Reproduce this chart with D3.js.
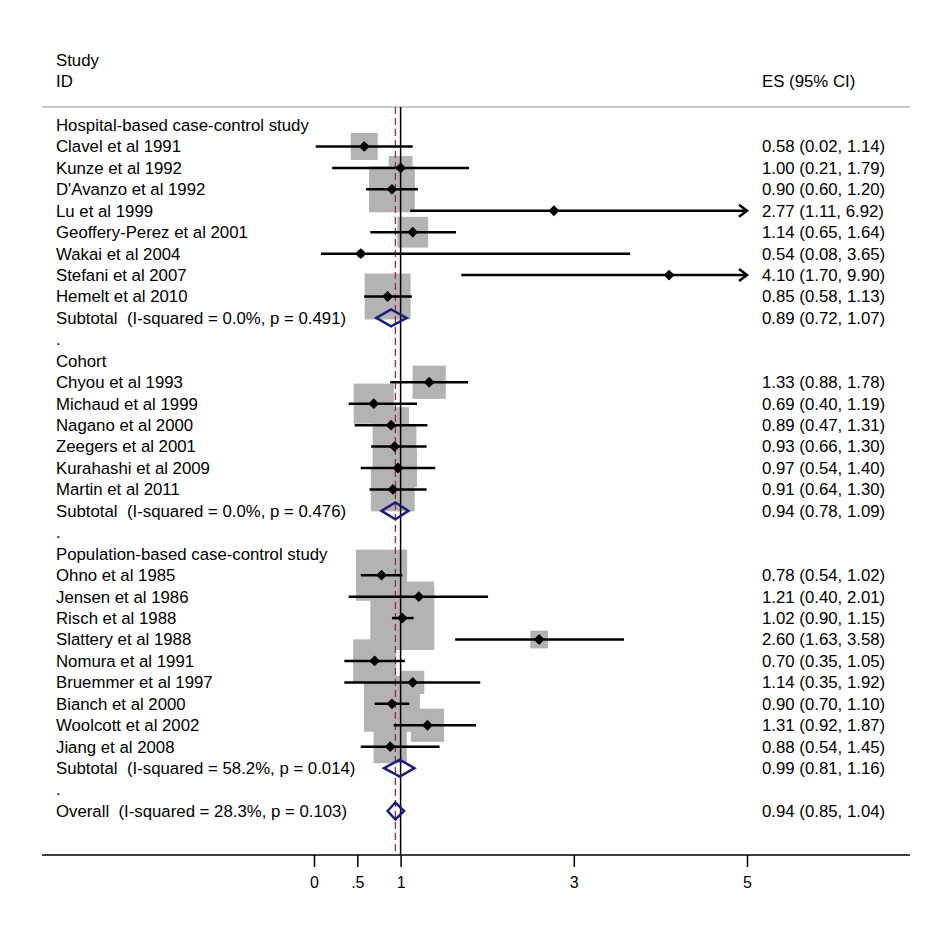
<!DOCTYPE html>
<html>
<head>
<meta charset="utf-8">
<script src="https://cdn.jsdelivr.net/npm/d3@7"></script>
<style>
  body { margin: 0; background: #fff; }
  svg { display: block; font-family: Arial, "Liberation Sans", sans-serif; }
  text { white-space: pre; }
</style>
</head>
<body>
<svg id="chart" width="945" height="936"></svg>
<script>
// --- data ---
const groupNames = [
  "Hospital-based case-control study",
  "Cohort",
  "Population-based case-control study"
];
const studyNames = [
  "Clavel et al 1991", "Kunze et al 1992", "D'Avanzo et al 1992", "Lu et al 1999",
  "Geoffery-Perez et al 2001", "Wakai et al 2004", "Stefani et al 2007", "Hemelt et al 2010",
  "Chyou et al 1993", "Michaud et al 1999", "Nagano et al 2000", "Zeegers et al 2001",
  "Kurahashi et al 2009", "Martin et al 2011",
  "Ohno et al 1985", "Jensen et al 1986", "Risch et al 1988", "Slattery et al 1988",
  "Nomura et al 1991", "Bruemmer et al 1997", "Bianch et al 2000", "Woolcott et al 2002",
  "Jiang et al 2008"
];
const studyGroup = [0,0,0,0,0,0,0,0, 1,1,1,1,1,1, 2,2,2,2,2,2,2,2,2];
const studyES = [0.58, 1.00, 0.90, 2.77, 1.14, 0.54, 4.10, 0.85,
                 1.33, 0.69, 0.89, 0.93, 0.97, 0.91,
                 0.78, 1.21, 1.02, 2.60, 0.70, 1.14, 0.90, 1.31, 0.88];
const studyLo = [0.02, 0.21, 0.60, 1.11, 0.65, 0.08, 1.70, 0.58,
                 0.88, 0.40, 0.47, 0.66, 0.54, 0.64,
                 0.54, 0.40, 0.90, 1.63, 0.35, 0.35, 0.70, 0.92, 0.54];
const studyHi = [1.14, 1.79, 1.20, 6.92, 1.64, 3.65, 9.90, 1.13,
                 1.78, 1.19, 1.31, 1.30, 1.40, 1.30,
                 1.02, 2.01, 1.15, 3.58, 1.05, 1.92, 1.10, 1.87, 1.45];
// weights (%)
const studyWeight = [2.3, 1.8, 6.7, 0.05, 3.0, 0.2, 0.05, 6.7,
                     3.5, 5.1, 4.1, 6.1, 4.6, 6.1,
                     8.3, 2.9, 13.0, 1.0, 5.9, 1.7, 9.9, 3.5, 3.5];

const subtotalLabels = [
  "Subtotal  (I-squared = 0.0%, p = 0.491)",
  "Subtotal  (I-squared = 0.0%, p = 0.476)",
  "Subtotal  (I-squared = 58.2%, p = 0.014)"
];
const subtotalES = [0.89, 0.94, 0.99];
const subtotalLo = [0.72, 0.78, 0.81];
const subtotalHi = [1.07, 1.09, 1.16];

const overallLabel = "Overall  (I-squared = 28.3%, p = 0.103)";
const overallES = 0.94, overallLo = 0.85, overallHi = 1.04;

const tickValues = [0, 0.5, 1, 3, 5];
const tickLabels = ["0", ".5", "1", "3", "5"];

// --- rows ---
const rows = [];
groupNames.forEach((g, gi) => {
  rows.push({ type: "header", label: g });
  studyNames.forEach((s, i) => {
    if (studyGroup[i] === gi) rows.push({ type: "study", label: s, es: studyES[i], lo: studyLo[i], hi: studyHi[i], w: studyWeight[i] });
  });
  rows.push({ type: "sub", label: subtotalLabels[gi], es: subtotalES[gi], lo: subtotalLo[gi], hi: subtotalHi[gi] });
  rows.push({ type: "spacer", label: "." });
});
rows.push({ type: "sub", label: overallLabel, es: overallES, lo: overallLo, hi: overallHi, overall: true });
rows.forEach((r, i) => r.i = i);

const svg = d3.select("#chart");
svg.append("rect").attr("width", 945).attr("height", 936).attr("fill", "#fff");

const x = d3.scaleLinear().domain([0, 5]).range([314, 747]);
const y = d3.scaleLinear().domain([0, rows.length - 1]).range([125, 811]);
const boxSize = d3.scaleSqrt().domain([0, 13]).range([0, 64]);
const fmt = d3.format(".2f");

const topY = 107, axisY = 855;
const navy = "#1b1f78";
const fs = 16.8;

// header texts + rule
svg.append("text").attr("x", 56).attr("y", 60).attr("dy", "0.35em").attr("font-size", fs).text("Study");
svg.append("text").attr("x", 56).attr("y", 81).attr("dy", "0.35em").attr("font-size", fs).text("ID");
svg.append("text").attr("x", 762).attr("y", 81).attr("dy", "0.35em").attr("font-size", fs).text("ES (95% CI)");
svg.append("line").attr("x1", 42).attr("x2", 910).attr("y1", topY).attr("y2", topY)
  .attr("stroke", "#b8b8b8").attr("stroke-width", 1.5);

const studies = rows.filter(r => r.type === "study");

// weight boxes
svg.append("g").selectAll("rect")
  .data(studies)
  .join("rect")
  .attr("x", d => x(d.es) - boxSize(d.w) / 2)
  .attr("y", d => y(d.i) - boxSize(d.w) / 2)
  .attr("width", d => boxSize(d.w))
  .attr("height", d => boxSize(d.w))
  .attr("fill", "#b3b3b3");

// null line and overall line
svg.append("line").attr("x1", x(1)).attr("x2", x(1)).attr("y1", topY).attr("y2", axisY)
  .attr("stroke", "#000").attr("stroke-width", 1.5);
svg.append("line").attr("x1", x(overallES)).attr("x2", x(overallES)).attr("y1", topY).attr("y2", axisY)
  .attr("stroke", "#a3263c").attr("stroke-width", 1.3).attr("stroke-dasharray", "7,4");

// CI lines
const xmax = x.domain()[1];
svg.append("g").selectAll("line")
  .data(studies)
  .join("line")
  .attr("x1", d => x(Math.max(d.lo, 0)))
  .attr("x2", d => x(Math.min(d.hi, xmax)))
  .attr("y1", d => y(d.i)).attr("y2", d => y(d.i))
  .attr("stroke", "#000").attr("stroke-width", 2.5);

// arrows for clipped CIs
svg.append("g").selectAll("path")
  .data(studies.filter(d => d.hi > xmax))
  .join("path")
  .attr("d", d => { const ax = x(xmax), ay = y(d.i); return `M${ax - 8},${ay - 6}L${ax},${ay}L${ax - 8},${ay + 6}`; })
  .attr("fill", "none").attr("stroke", "#000").attr("stroke-width", 2.5);

// point markers
svg.append("g").selectAll("path")
  .data(studies)
  .join("path")
  .attr("transform", d => `translate(${x(d.es)},${y(d.i)})`)
  .attr("d", d3.symbol(d3.symbolDiamond2, 75))
  .attr("fill", "#000");

// subtotal / overall diamonds
svg.append("g").selectAll("path")
  .data(rows.filter(r => r.type === "sub"))
  .join("path")
  .attr("d", d => {
    const cy = y(d.i), h = 8.5;
    return `M${x(d.lo)},${cy}L${x(d.es)},${cy - h}L${x(d.hi)},${cy}L${x(d.es)},${cy + h}Z`;
  })
  .attr("fill", "none").attr("stroke", navy).attr("stroke-width", 2.5);

// left labels
svg.append("g").selectAll("text")
  .data(rows)
  .join("text")
  .attr("x", 56)
  .attr("y", d => y(d.i))
  .attr("dy", "0.35em")
  .attr("font-size", fs)
  .attr("fill", "#000")
  .text(d => d.label);

// ES column
svg.append("g").selectAll("text")
  .data(rows.filter(r => r.type === "study" || r.type === "sub"))
  .join("text")
  .attr("x", 762)
  .attr("y", d => y(d.i))
  .attr("dy", "0.35em")
  .attr("font-size", fs)
  .attr("fill", "#000")
  .text(d => `${fmt(d.es)} (${fmt(d.lo)}, ${fmt(d.hi)})`);

// bottom axis
svg.append("line").attr("x1", 42).attr("x2", 910).attr("y1", axisY).attr("y2", axisY)
  .attr("stroke", "#000").attr("stroke-width", 1.5);
const xAxis = d3.axisBottom(x).tickValues(tickValues)
  .tickFormat((d, i) => tickLabels[i]).tickSize(12).tickPadding(10);
const ax = svg.append("g").attr("transform", `translate(0,${axisY})`).call(xAxis);
ax.select(".domain").remove();
ax.selectAll(".tick line").attr("stroke", "#000").attr("stroke-width", 1.5);
ax.selectAll(".tick text").attr("font-size", 16).attr("fill", "#000")
  .attr("font-family", "Arial, 'Liberation Sans', sans-serif");
</script>
</body>
</html>
